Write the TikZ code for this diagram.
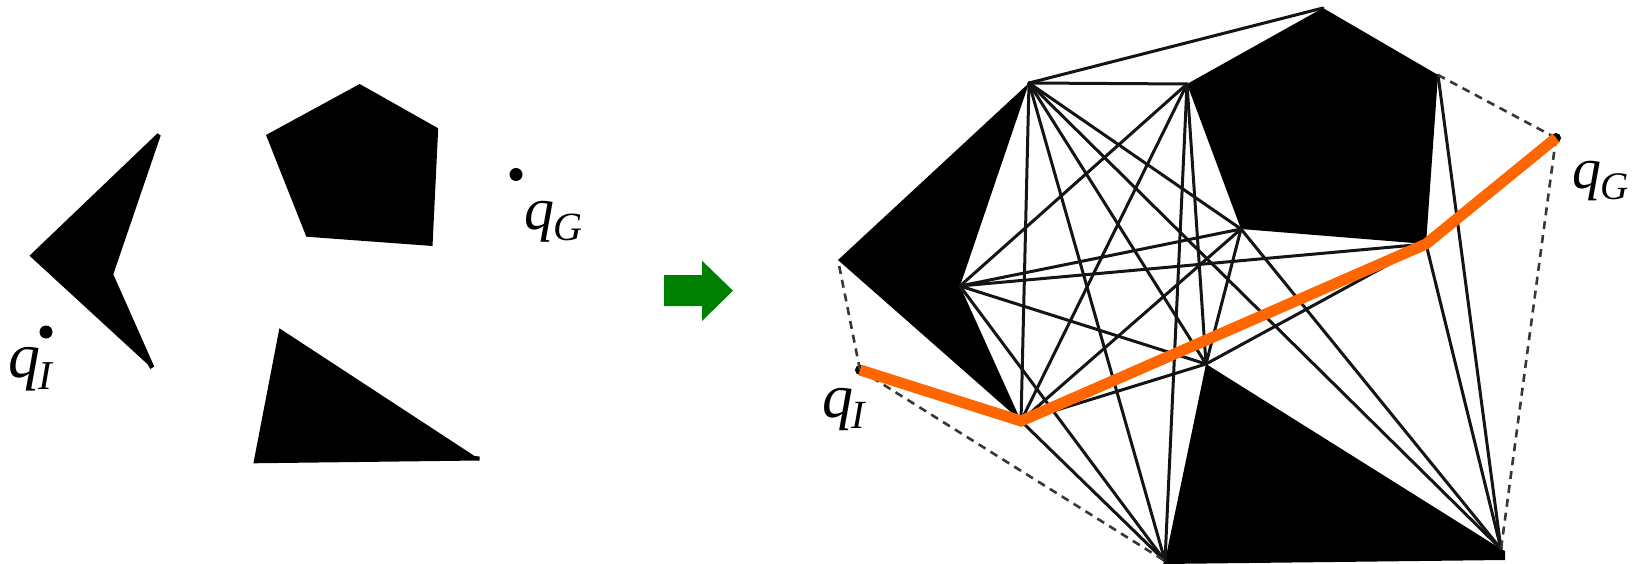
\documentclass[tikz,border=0pt]{standalone}
\usepackage{fontspec}
\setmainfont{Liberation Serif}
\definecolor{pathorange}{RGB}{255,102,0}
\definecolor{arrowgreen}{RGB}{0,128,0}
\definecolor{edgegray}{RGB}{20,20,20}
\definecolor{dashgray}{RGB}{55,55,55}
\begin{document}
\begin{tikzpicture}[x=1pt,y=-1pt,
  edge/.style={line width=3pt, draw=edgegray, line cap=round},
  freeedge/.style={line width=2.6pt, draw=dashgray, dash pattern=on 8pt off 6pt},
  obstacle/.style={fill=black, draw=none},
  pathline/.style={line width=11pt, draw=pathorange, line join=miter},
  config/.style={circle, fill=black, inner sep=0pt, minimum size=#1},
  lbl/.style={inner sep=0pt, anchor=base west},
  bigarrow/.style={fill=arrowgreen, draw=none}]
\useasboundingbox (0,0) rectangle (1637,564);

% ---------------- left panel ----------------
\fill[obstacle] (29.5,255.7) -- (157.5,133.3) -- (160.7,135.5) -- (113.3,274.3)
  -- (154.2,366.5) -- (150.5,369) -- (147.3,364) -- cycle;
\fill[obstacle] (266,135) -- (359.7,84) -- (438.2,128.3) -- (432.5,246)
  -- (306.2,236.7) -- (305,233.3) -- cycle;
\fill[obstacle] (279.4,328.3) -- (474.5,456) -- (479.5,456.5) -- (479.5,460.5)
  -- (253.4,463.3) -- cycle;
\node[config=13pt] (qIl) at (46,332) {};
\node[config=13pt] (qGl) at (516,174.5) {};
\node[lbl] (qIllab) at (8,377) {{\fontsize{64}{66}\selectfont\itshape q}\kern-2pt\raisebox{-12pt}{\fontsize{41}{43}\selectfont\itshape I}};
\node[lbl] (qGllab) at (524,229) {{\fontsize{60}{62}\selectfont\itshape q}\kern-1pt\raisebox{-11pt}{\fontsize{40}{42}\selectfont\itshape G}};

% ---------------- arrow ----------------
\fill[bigarrow] (664,275) -- (702,275) -- (702,260.7) -- (733,290.7)
  -- (702,321) -- (702,306) -- (664,306) -- cycle;

% ---------------- right panel ----------------
\coordinate (A) at (1029,83);
\coordinate (B) at (838,260);
\coordinate (C) at (960,286);
\coordinate (D) at (1021,421);
\coordinate (E) at (1323,8);
\coordinate (F) at (1438,75);
\coordinate (G) at (1426,244);
\coordinate (H) at (1241,229);
\coordinate (P) at (1187,84);
\coordinate (T) at (1206,364);
\coordinate (U) at (1165,561);
\coordinate (W) at (1501,549);

% obstacles
\fill[obstacle] (B) -- (A) -- (C) -- (D) -- cycle;
\fill[obstacle] (P) -- (E) -- (F) -- (G) -- (H) -- cycle;
\fill[obstacle] (T) -- (W) -- (1505,551) -- (1505,560) -- (1163,564) -- (U) -- cycle;

% visibility edges
\draw[edge] (A) -- (E);
\draw[edge] (A) -- (P);
\draw[edge] (A) -- (D);
\draw[edge] (A) -- (U);
\draw[edge] (A) -- (T);
\draw[edge] (A) -- (W);
\draw[edge] (A) -- (H);
\draw[edge] (C) -- (P);
\draw[edge] (C) -- (H);
\draw[edge] (C) -- (G);
\draw[edge] (C) -- (T);
\draw[edge] (C) -- (U);
\draw[edge] (D) -- (P);
\draw[edge] (D) -- (H);
\draw[edge] (D) -- (T);
\draw[edge] (D) -- (U);
\draw[edge] (D) -- (G);
\draw[edge] (P) -- (U);
\draw[edge] (P) -- (T);
\draw[edge] (H) -- (T);
\draw[edge] (H) -- (W);
\draw[edge] (T) -- (G);
\draw[edge] (G) -- (W);
\draw[edge] (F) -- (W);

% start and goal
\node[config=10pt] (qI) at (860,370) {};
\node[config=10pt] (qG) at (1556,138) {};
\draw[freeedge] (qI.center) -- (B);
\draw[freeedge] (qI.center) -- (U);
\draw[freeedge] (qG.center) -- (F);
\draw[freeedge] (qG.center) -- (W);

% shortest path
\draw[pathline] (qI.center) -- (D) -- (G) -- (qG.center);

\node[lbl] (qIlab) at (822,417) {{\fontsize{62}{64}\selectfont\itshape q}\kern-2pt\raisebox{-11pt}{\fontsize{40}{42}\selectfont\itshape I}};
\node[lbl] (qGlab) at (1572,189) {{\fontsize{58}{60}\selectfont\itshape q}\kern-1pt\raisebox{-11pt}{\fontsize{39}{41}\selectfont\itshape G}};
\end{tikzpicture}
\end{document}
